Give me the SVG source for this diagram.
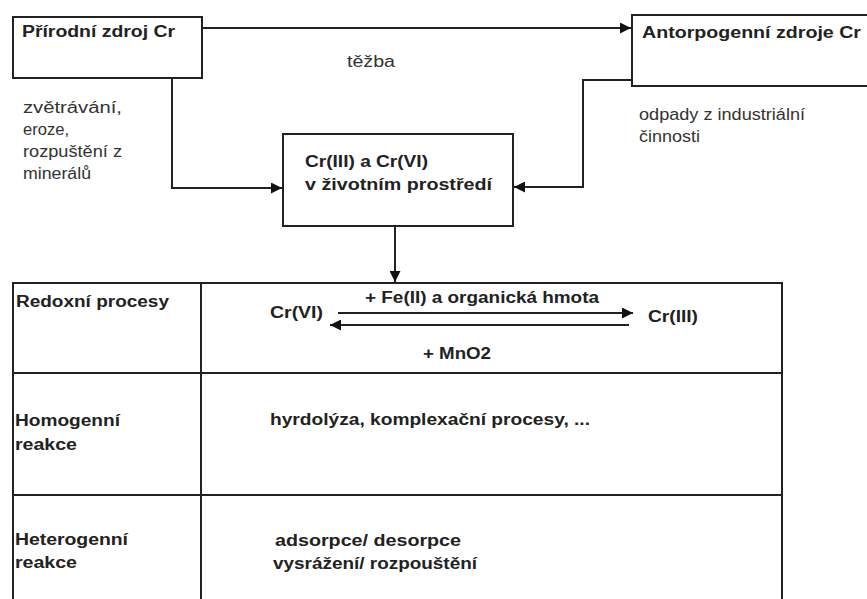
<svg xmlns="http://www.w3.org/2000/svg" width="867" height="599" viewBox="0 0 867 599">
<style>
.box{fill:#fff;stroke:#222;stroke-width:2}
.ln{fill:none;stroke:#222;stroke-width:2}
.b{font-family:"Liberation Sans",Arial,sans-serif;font-weight:bold;font-size:16px;fill:#222}
.r{font-family:"Liberation Sans",Arial,sans-serif;font-size:16px;fill:#333}
</style>
<defs>
<marker id="ah" markerWidth="11" markerHeight="11" refX="11" refY="5.5" orient="auto" markerUnits="userSpaceOnUse">
<path d="M0,0 L11,5.5 L0,11 Z" fill="#111"/>
</marker>
</defs>
<rect width="867" height="599" fill="#fff"/>
<g id="connectors">
<path class="ln" d="M202,28 H631" marker-end="url(#ah)"/>
<path class="ln" d="M172,78 V188 H282" marker-end="url(#ah)"/>
<path class="ln" d="M632,80 H583 V187 H514" marker-end="url(#ah)"/>
<path class="ln" d="M395,226 V282" marker-end="url(#ah)"/>
</g>
<g id="prirodni">
<rect class="box" x="13" y="17" width="189" height="61"/>
<text class="b" x="22" y="37" textLength="153" lengthAdjust="spacingAndGlyphs">Přírodní zdroj Cr</text>
</g>
<g id="tezba-label">
<text class="r" x="347" y="67" textLength="48" lengthAdjust="spacingAndGlyphs">těžba</text>
</g>
<g id="antropogenni">
<rect class="box" x="632" y="15" width="240" height="71"/>
<text class="b" x="642" y="38" textLength="219" lengthAdjust="spacingAndGlyphs">Antorpogenní zdroje Cr</text>
</g>
<g id="zvetravani-label">
<text class="r" x="23" y="113" textLength="99" lengthAdjust="spacingAndGlyphs">zvětrávání,</text>
<text class="r" x="23" y="135" textLength="46" lengthAdjust="spacingAndGlyphs">eroze,</text>
<text class="r" x="23" y="157" textLength="99" lengthAdjust="spacingAndGlyphs">rozpuštění z</text>
<text class="r" x="23" y="179" textLength="68" lengthAdjust="spacingAndGlyphs">minerálů</text>
</g>
<g id="odpady-label">
<text class="r" x="639" y="120" textLength="166" lengthAdjust="spacingAndGlyphs">odpady z industriální</text>
<text class="r" x="639" y="142" textLength="61" lengthAdjust="spacingAndGlyphs">činnosti</text>
</g>
<g id="prostredi">
<rect class="box" x="283" y="134" width="230" height="92"/>
<text class="b" x="305" y="167" textLength="123" lengthAdjust="spacingAndGlyphs">Cr(III) a Cr(VI)</text>
<text class="b" x="305" y="190" textLength="187" lengthAdjust="spacingAndGlyphs">v životním prostředí</text>
</g>
<g id="table">
<rect class="box" x="13" y="283" width="769" height="330"/>
<path class="ln" d="M201,283 V613 M13,373 H782 M13,495 H782"/>
</g>
<g id="redox">
<text class="b" x="16" y="307" textLength="153" lengthAdjust="spacingAndGlyphs">Redoxní procesy</text>
<text class="b" x="270" y="318" textLength="53" lengthAdjust="spacingAndGlyphs">Cr(VI)</text>
<text class="b" x="365" y="303" textLength="234" lengthAdjust="spacingAndGlyphs">+ Fe(II) a organická hmota</text>
<text class="b" x="648" y="322" textLength="50" lengthAdjust="spacingAndGlyphs">Cr(III)</text>
<text class="b" x="423" y="359" textLength="68" lengthAdjust="spacingAndGlyphs">+ MnO2</text>
<path class="ln" d="M338,313 H633" marker-end="url(#ah)"/>
<path class="ln" d="M629,325 H330" marker-end="url(#ah)"/>
</g>
<g id="homogenni">
<text class="b" x="15" y="426" textLength="105" lengthAdjust="spacingAndGlyphs">Homogenní</text>
<text class="b" x="15" y="450" textLength="62" lengthAdjust="spacingAndGlyphs">reakce</text>
<text class="b" x="270" y="425" textLength="320" lengthAdjust="spacingAndGlyphs">hyrdolýza, komplexační procesy, ...</text>
</g>
<g id="heterogenni">
<text class="b" x="15" y="545" textLength="113" lengthAdjust="spacingAndGlyphs">Heterogenní</text>
<text class="b" x="15" y="568" textLength="62" lengthAdjust="spacingAndGlyphs">reakce</text>
<text class="b" x="275" y="546" textLength="186" lengthAdjust="spacingAndGlyphs">adsorpce/ desorpce</text>
<text class="b" x="273" y="569" textLength="204" lengthAdjust="spacingAndGlyphs">vysrážení/ rozpouštění</text>
</g>
</svg>
